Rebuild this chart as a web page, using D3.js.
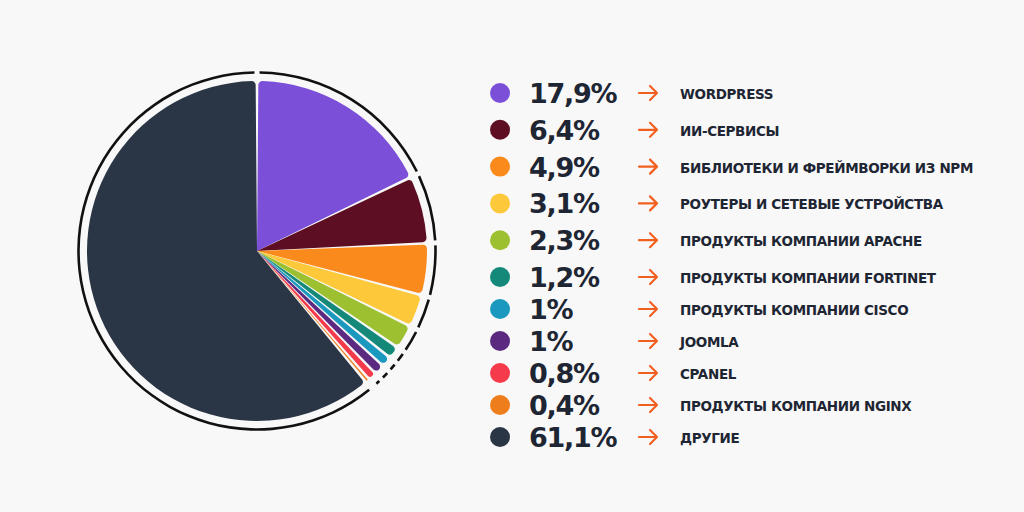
<!DOCTYPE html>
<html>
<head>
<meta charset="utf-8">
<script src="https://cdn.jsdelivr.net/npm/d3@7.9.0/dist/d3.min.js"></script>
<style>
  html, body { margin: 0; padding: 0; background: #f8f8f8; }
  svg { display: block; }
</style>
</head>
<body>
<div id="chart"></div>
<script>
// data
const labels = [
  'WORDPRESS',
  'ИИ-СЕРВИСЫ',
  'БИБЛИОТЕКИ И ФРЕЙМВОРКИ ИЗ NPM',
  'РОУТЕРЫ И СЕТЕВЫЕ УСТРОЙСТВА',
  'ПРОДУКТЫ КОМПАНИИ APACHE',
  'ПРОДУКТЫ КОМПАНИИ FORTINET',
  'ПРОДУКТЫ КОМПАНИИ CISCO',
  'JOOMLA',
  'CPANEL',
  'ПРОДУКТЫ КОМПАНИИ NGINX',
  'ДРУГИЕ',
];
const shares = [17.9, 6.4, 4.9, 3.1, 2.3, 1.2, 1, 1, 0.8, 0.4, 61.1];
const colors = [
  '#7b4fd8', '#5e0e22', '#fb8a1c', '#fdc93a', '#9cc02f', '#14897a',
  '#1a98bd', '#5b2a80', '#f43a4b', '#ee7d1c', '#2a3545',
];

const width = 1024;
const height = 512;
const cx = 257;
const cy = 251;
const r = 170;
const ringR = 178.5;

const fmt = (v) => String(v).replace('.', ',') + '%';

const data = labels.map((label, i) => ({ label, value: shares[i], color: colors[i] }));

const svg = d3
  .select('#chart')
  .append('svg')
  .attr('width', width)
  .attr('height', height)
  .attr('viewBox', `0 0 ${width} ${height}`);

svg.append('rect').attr('width', width).attr('height', height).attr('fill', '#f8f8f8');

// pie, starting at 12 o'clock, clockwise
const pie = d3.pie().sort(null).value((d) => d.value);
const arcs = pie(data);

const slice = d3.arc().innerRadius(0).outerRadius(r).padAngle(0.016).cornerRadius(4);
const ring = d3.arc().innerRadius(ringR - 1.3).outerRadius(ringR + 1.3).padAngle(0.02);

const g = svg.append('g').attr('transform', `translate(${cx},${cy})`);

g.selectAll('path.slice')
  .data(arcs)
  .join('path')
  .attr('class', 'slice')
  .attr('d', slice)
  .attr('fill', (d) => d.data.color);

// thin dashed outer ring, one piece per slice
g.selectAll('path.ring')
  .data(arcs)
  .join('path')
  .attr('class', 'ring')
  .attr('d', ring)
  .attr('fill', '#111');

// legend
const y = d3.scaleLinear().domain([0, 5, 10]).range([93, 277, 437]);

const rows = svg
  .append('g')
  .selectAll('g')
  .data(data)
  .join('g')
  .attr('transform', (d, i) => `translate(0,${y(i)})`);

rows.append('circle').attr('cx', 500).attr('cy', 0).attr('r', 10).attr('fill', (d) => d.color);

rows
  .append('text')
  .attr('x', 529)
  .attr('y', 10)
  .attr('font-family', 'DejaVu Sans')
  .attr('font-weight', 'bold')
  .attr('font-size', 27)
  .attr('letter-spacing', -1.3)
  .attr('fill', '#1e2533')
  .text((d) => fmt(d.value));

rows
  .append('path')
  .attr('d', 'M639,0H657M650,-7L657,0L650,7')
  .attr('fill', 'none')
  .attr('stroke', '#f2601f')
  .attr('stroke-width', 2.2)
  .attr('stroke-linecap', 'round')
  .attr('stroke-linejoin', 'round');

rows
  .append('text')
  .attr('x', 680)
  .attr('y', 6)
  .attr('font-family', 'DejaVu Sans')
  .attr('font-weight', 'bold')
  .attr('font-size', 13.5)
  .attr('letter-spacing', -0.35)
  .attr('fill', '#1e2533')
  .text((d) => d.label);
</script>
</body>
</html>
